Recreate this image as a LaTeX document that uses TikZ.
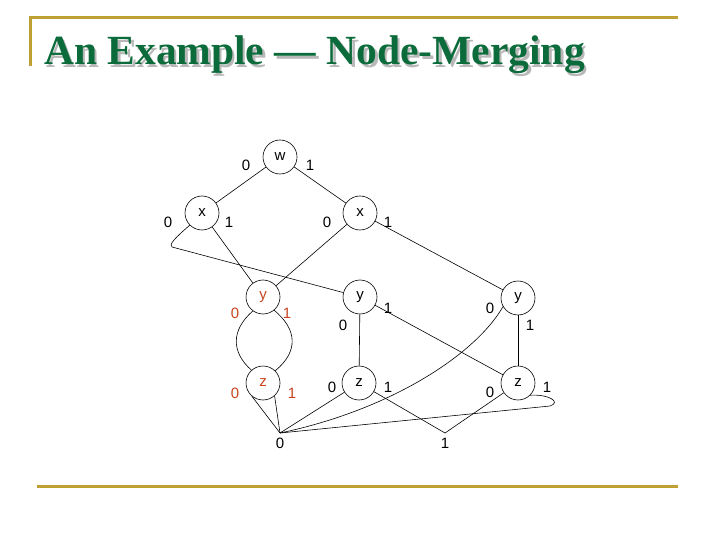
\documentclass[tikz,border=0pt]{standalone}
\usepackage{fontspec}
\setmainfont{Liberation Serif}
\newfontfamily\arialf{Liberation Sans}
\definecolor{gold}{HTML}{BFA032}
\definecolor{titlegreen}{HTML}{0B6B3A}
\definecolor{shadowgray}{HTML}{B8B8B8}
\definecolor{redlbl}{HTML}{C8441C}
\newcommand{\titletext}{An Example — Node-Merging}
\begin{document}
\begin{tikzpicture}[x=1pt,y=-1pt,
  vnode/.style={circle,draw=black,line width=0.6pt,minimum size=34pt,inner sep=0pt,font=\arialf\fontsize{15}{15}\selectfont},
  lbl/.style={inner sep=0pt,font=\arialf\fontsize{15}{15}\selectfont},
  rlbl/.style={lbl,text=redlbl},
  edge/.style={line width=0.6pt,black},
  goldline/.style={gold,line width=3pt}]
\useasboundingbox (0,0) rectangle (720,540);
\fill[white] (0,0) rectangle (720,540);
% frame lines
\draw[goldline] (30,66) -- (30,18) -- (678,18);
\draw[goldline] (37,486) -- (678,486);
% title with shadow
\node[anchor=base west,inner sep=0pt,font=\bfseries\fontsize{41.5}{42}\selectfont] (title) at (44,65)
  {\rlap{\hspace{2.5pt}\raisebox{-2.5pt}{\textcolor{shadowgray}{\titletext}}}\textcolor{titlegreen}{\titletext}};
% nodes
\node[vnode] (w) at (280,157) {w};
\node[vnode] (x1) at (202,213) {x};
\node[vnode] (x2) at (360,213) {x};
\node[vnode,text=redlbl] (y1) at (263,297) {y};
\node[vnode] (y2) at (360,297) {y};
\node[vnode] (y3) at (518,298) {y};
\node[vnode,text=redlbl] (z1) at (263,383) {z};
\node[vnode] (z2) at (359,383) {z};
\node[vnode] (z3) at (518,383) {z};
\coordinate (t0) at (280,433);
\coordinate (t1) at (445,433);
\node[lbl] (t0l) at (280,443) {0};
\node[lbl] (t1l) at (445,443) {1};
% labels
\node[lbl] (lw0) at (246,165) {0};
\node[lbl] (lw1) at (310,165) {1};
\node[lbl] (lx10) at (168,222) {0};
\node[lbl] (lx11) at (229,222) {1};
\node[lbl] (lx20) at (327,222) {0};
\node[lbl] (lx21) at (388,222) {1};
\node[rlbl] (ly10) at (235,313) {0};
\node[rlbl] (ly11) at (287,313) {1};
\node[rlbl] (lz10) at (235,393) {0};
\node[rlbl] (lz11) at (292,393) {1};
\node[lbl] (ly21) at (388,308) {1};
\node[lbl] (ly20) at (343,325) {0};
\node[lbl] (lz20) at (332,387) {0};
\node[lbl] (lz21) at (388,387) {1};
\node[lbl] (ly30) at (490,308) {0};
\node[lbl] (ly31) at (530,325) {1};
\node[lbl] (lz30) at (490,392) {0};
\node[lbl] (lz31) at (547,387) {1};
% edges
\draw[edge] (w) -- (x1);
\draw[edge] (w) -- (x2);
\draw[edge] (x1.225) .. controls (176,237) and (168,245) .. (172,247) -- (y2);
\draw[edge] (x1) -- (y1);
\draw[edge] (x2) -- (y1);
\draw[edge] (x2) -- (y3);
\draw[edge] (y1.234) .. controls (231,330) and (231,352) .. (z1.132);
\draw[edge] (y1.310) .. controls (298,330) and (298,352) .. (z1.45);
\draw[edge] (z1.230) -- (t0);
\draw[edge] (z1.312) -- (t0);
\draw[edge] (y2) -- (z2);
\draw[edge] (y2) -- (z3);
\draw[edge] (z2) -- (t0);
\draw[edge] (z2) -- (t1);
\draw[edge] (y3.210) .. controls (475,355) and (390,410) .. (t0);
\draw[edge] (y3) -- (z3);
\draw[edge] (z3) -- (t1);
\draw[edge] (z3.-45) .. controls (548,394) and (562,402) .. (550,406) -- (t0);
\end{tikzpicture}
\end{document}
